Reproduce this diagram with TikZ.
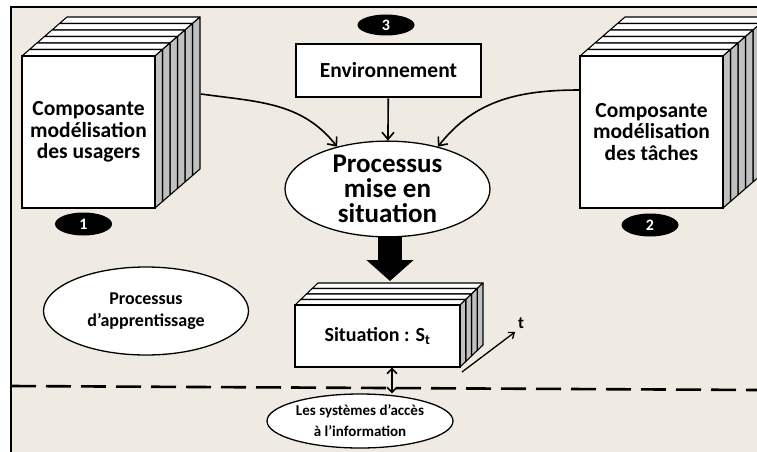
\documentclass[tikz,border=0pt]{standalone}
\usepackage{fontspec}
\setmainfont{Carlito}
\usetikzlibrary{arrows.meta,shapes.geometric}

\definecolor{fond}{RGB}{239,235,226}
\definecolor{tranche}{RGB}{192,192,192}

\tikzset{
  face/.style={draw, fill=white, line width=1.3pt, align=center, inner sep=0pt,
    font=\bfseries\fontsize{21.5}{21.5}\selectfont},
  pagetop/.style={draw, fill=white, line width=1.1pt, line join=round},
  pageside/.style={draw, fill=tranche, line width=1.1pt, line join=round},
  bulle/.style={ellipse, draw, fill=white, line width=1.3pt, align=center, inner sep=0pt},
  pastille/.style={ellipse, fill=black, text=white, inner sep=0pt,
    minimum width=57pt, minimum height=23pt, font=\bfseries\fontsize{16}{16}\selectfont},
  fleche/.style={-{Straight Barb[length=7pt,width=12pt]}, line width=1.6pt},
}

\begin{document}
\begin{tikzpicture}[x=1pt,y=-1pt]
\useasboundingbox (0,0) rectangle (757,452);
\clip (0,0) rectangle (757,452);
\fill[fond] (11,7) rectangle (757,452);
\draw[line width=1.2pt] (11,452) -- (11,7) -- (757,7);

% pile des usagers
\foreach \k in {5,...,0} {
  \begin{scope}[shift={(7.5*\k,-6.5*\k)}]
    \filldraw[pagetop] (22,56) -- (155,56) -- (162.5,49.5) -- (29.5,49.5) -- cycle;
    \filldraw[pageside] (155,56) -- (155,208) -- (162.5,201.5) -- (162.5,49.5) -- cycle;
  \end{scope}
}
\node[face, minimum width=133pt, minimum height=152pt] (usagers) at (88.5,132)
  {Composante\\modélisation\\des usagers};
\coordinate (usagers-out) at (201,94);

% pile des taches
\foreach \k in {5,...,0} {
  \begin{scope}[shift={(7.5*\k,-6.5*\k)}]
    \filldraw[pagetop] (580,56) -- (723,56) -- (730.5,49.5) -- (587.5,49.5) -- cycle;
    \filldraw[pageside] (723,56) -- (723,208) -- (730.5,201.5) -- (730.5,49.5) -- cycle;
  \end{scope}
}
\node[face, minimum width=143pt, minimum height=152pt] (taches) at (651.5,132)
  {Composante\\modélisation\\des tâches};
\coordinate (taches-out) at (580,90);

% environnement
\node[draw, fill=white, line width=2.6pt, minimum width=185pt, minimum height=53pt,
  font=\bfseries\fontsize{21.5}{21.5}\selectfont] (env) at (388.5,70.5) {Environnement};

% processus central
\node[bulle, minimum width=205pt, minimum height=88pt,
  font=\bfseries\fontsize{27}{25}\selectfont] (mise) at (387.5,189) {Processus\\mise en\\situation};

\node[pastille] (p1) at (83.5,224) {1};
\node[pastille] (p2) at (650,225) {2};
\node[pastille, minimum height=21pt] (p3) at (386,25) {3};

\draw[fleche] (env) -- (mise);
\draw[fleche] (usagers-out) to[out=-8, in=128] (mise.140);
\draw[fleche] (taches-out) to[out=180, in=52] (mise.40);

% pile situation
\foreach \k in {3,...,0} {
  \begin{scope}[shift={(5.75*\k,-5.5*\k)}]
    \filldraw[pagetop] (295,305) -- (460,305) -- (465.75,299.5) -- (300.75,299.5) -- cycle;
    \filldraw[pageside] (460,305) -- (460,367) -- (465.75,361.5) -- (465.75,299.5) -- cycle;
  \end{scope}
}
\node[face, minimum width=165pt, minimum height=62pt,
  font=\bfseries\fontsize{20}{20}\selectfont] (situ) at (377.5,336) {Situation : S\textsubscript{t}};

\coordinate (situ-top) at (390,281);
\draw[line width=24pt, -{Triangle[length=21pt,width=46pt]}] (mise.south -| situ-top) ++(0,-1) -- (situ-top);

\coordinate (t-start) at (462,372);
\node[font=\bfseries\fontsize{17}{17}\selectfont, inner sep=0pt] (t) at (521,323) {t};
\draw[line width=1.3pt, -{Straight Barb[length=5pt,width=8pt]}] (t-start) -- (515,332);

% ligne pointillee
\draw[line width=2.6pt, dash pattern=on 25pt off 10pt] (11,386) -- (757,390);

% bulles du bas
\node[bulle, minimum width=205pt, minimum height=88pt,
  font=\bfseries\fontsize{18}{21.5}\selectfont] (appr) at (146,311) {Processus\\d’apprentissage};
\node[bulle, minimum width=186pt, minimum height=54pt,
  font=\bfseries\fontsize{15}{21}\selectfont] (sia) at (360,421) {Les systèmes d’accès\\à l’information};

\draw[line width=1.5pt, {Straight Barb[length=5pt,width=10pt]}-{Straight Barb[length=5pt,width=10pt]}]
  (situ.south -| 392,0) -- (sia.north -| 392,0);
\end{tikzpicture}
\end{document}
